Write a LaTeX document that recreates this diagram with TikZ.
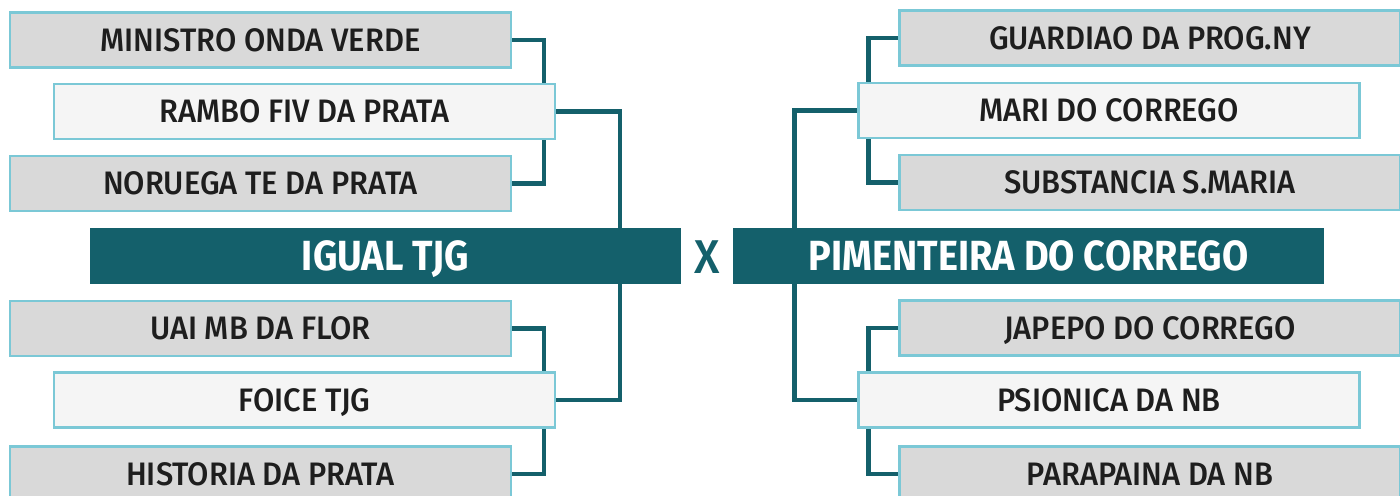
\documentclass[tikz,border=0pt]{standalone}
\usepackage{fontspec}
\newfontfamily\boxfont{Fira Sans Medium}[FakeStretch=0.95]
\newfontfamily\titlefont{Fira Sans}[FakeStretch=0.9]
\definecolor{teal}{HTML}{14606B}
\definecolor{edge}{HTML}{7BC8D6}
\definecolor{grayfill}{HTML}{D9D9D9}
\definecolor{lightfill}{HTML}{F5F5F5}
\definecolor{ink}{HTML}{1E1E1E}
\pgfdeclarelayer{bg}
\pgfsetlayers{bg,main}
\tikzset{
  entry/.style={draw=edge, line width=1.3pt, fill=grayfill, minimum width=10.02cm, minimum height=1.1cm, inner sep=0pt, text=ink, font=\boxfont\fontsize{18.5}{20}\selectfont, text depth=0pt},
  seed/.style={entry, fill=lightfill},
  finalist/.style={fill=teal, minimum height=1.12cm, inner sep=0pt, text=white, font=\titlefont\bfseries\fontsize{24}{26}\selectfont, text depth=0pt},
  link/.style={draw=teal, line width=2.4pt},
  vs/.style={text=teal, font=\boxfont\fontsize{27}{29}\selectfont, inner sep=0pt, text depth=0pt}
}
\begin{document}
\begin{tikzpicture}[x=0.02cm, y=-0.02cm]
\useasboundingbox (0,0) rectangle (1400,495);
% entries
\node[entry] (a1) at (260.5,40) {MINISTRO ONDA VERDE};
\node[seed]  (a2) at (304.5,111.5) {RAMBO FIV DA PRATA};
\node[entry] (a3) at (260.5,183.5) {NORUEGA TE DA PRATA};
\node[entry] (b1) at (260.5,328.5) {UAI MB DA FLOR};
\node[seed]  (b2) at (304.5,400) {FOICE TJG};
\node[entry] (b3) at (260.5,474) {HISTORIA DA PRATA};
\node[entry] (c1) at (1150,38) {GUARDIAO DA PROG.NY};
\node[seed]  (c2) at (1109,110.5) {MARI DO CORREGO};
\node[entry] (c3) at (1150,182.5) {SUBSTANCIA S.MARIA};
\node[entry] (d1) at (1150,328) {JAPEPO DO CORREGO};
\node[seed]  (d2) at (1109,400) {PSIONICA DA NB};
\node[entry] (d3) at (1150,474) {PARAPAINA DA NB};
% finalists
\node[finalist, minimum width=11.82cm] (L) at (385.5,256) {IGUAL TJG};
\node[finalist, minimum width=11.82cm] (R) at (1028.5,256) {PIMENTEIRA DO CORREGO};
\node[vs] (x) at (707,257) {X};
% connectors
\begin{pgfonlayer}{bg}
\draw[link] (a1.east) -- ++(32,0) |- (a3.east);
\draw[link] (b1.east) -- ++(32,0) |- (b3.east);
\draw[link] (a2.east) -- ++(64,0) |- (b2.east);
\draw[link] (c1.west) -- ++(-30,0) |- (c3.west);
\draw[link] (d1.west) -- ++(-30,0) |- (d3.west);
\draw[link] (c2.west) -- ++(-63,0) |- (d2.west);
\end{pgfonlayer}
\end{tikzpicture}
\end{document}
